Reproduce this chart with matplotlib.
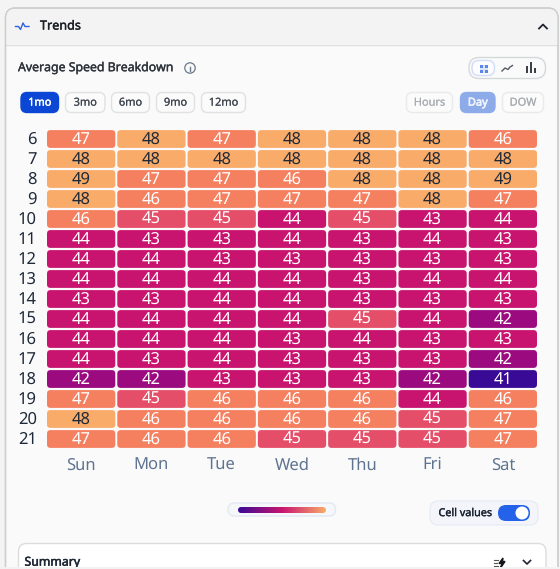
import numpy as np
import matplotlib
matplotlib.use("Agg")
import matplotlib.pyplot as plt
from matplotlib.patches import FancyBboxPatch, Circle, Rectangle
from matplotlib.colors import LinearSegmentedColormap
from matplotlib.patheffects import withStroke

plt.rcParams['font.family'] = ['Noto Sans', 'DejaVu Sans']
plt.rcParams['text.hinting'] = 'none'
plt.rcParams['text.hinting_factor'] = 1

HOURS = [6, 7, 8, 9, 10, 11, 12, 13, 14, 15, 16, 17, 18, 19, 20, 21]
DAYS = ["Sun", "Mon", "Tue", "Wed", "Thu", "Fri", "Sat"]
SPEED = [
    [47, 48, 47, 48, 48, 48, 46],
    [48, 48, 48, 48, 48, 48, 48],
    [49, 47, 47, 46, 48, 48, 49],
    [48, 46, 47, 47, 47, 48, 47],
    [46, 45, 45, 44, 45, 43, 44],
    [44, 43, 43, 44, 43, 44, 43],
    [44, 44, 43, 43, 43, 43, 43],
    [44, 44, 44, 44, 43, 44, 44],
    [43, 43, 44, 44, 43, 43, 43],
    [44, 44, 44, 44, 45, 44, 42],
    [44, 44, 44, 43, 44, 43, 43],
    [44, 43, 44, 43, 43, 43, 42],
    [42, 42, 43, 43, 43, 42, 41],
    [47, 45, 46, 46, 46, 44, 46],
    [48, 46, 46, 46, 46, 45, 47],
    [47, 46, 46, 45, 45, 45, 47],
]
PERIODS = ["1mo", "3mo", "6mo", "9mo", "12mo"]
GROUPS = ["Hours", "Day", "DOW"]

LEVELS = {41: "#390a96", 42: "#9c0a80", 43: "#c9146f", 44: "#c9146f",
          45: "#e54e68", 46: "#f58060", 47: "#f58060", 48: "#f9ab69", 49: "#f9ab69"}

W, H = 560, 569
fig = plt.figure(figsize=(W / 100, H / 100), dpi=100, facecolor="#f3f4f3")
ui = fig.add_axes([0, 0, 1, 1], zorder=1)
ui.set_xlim(0, W); ui.set_ylim(H, 0); ui.axis("off")


def px(v):
    return v * 0.72


def box(x0, y0, x1, y1, r, fc, ec="none", lw=1.0, z=2, ax=ui):
    p = FancyBboxPatch((x0, y0), x1 - x0, y1 - y0, boxstyle=f"round,pad=0,rounding_size={r}",
                       fc=fc, ec=ec, lw=lw, zorder=z)
    ax.add_patch(p)
    return p


def label(x, y, s, size, color, ha="left", heavy=0.4):
    ui.text(x, y, s, fontsize=px(size), color=color, ha=ha, va="center", zorder=3,
            path_effects=[withStroke(linewidth=heavy, foreground=color)])


# card
box(5.5, 8, 558, 620, 10, "#fafafa", "#cdcfcd", 1.0, 1)
hdr = Rectangle((6, 8.5), 552, 35.5, fc="#f3f3f3", ec="none", zorder=1.5)
ui.add_patch(hdr)
hdr.set_clip_path(box(5.5, 8, 558, 620, 10, "none", "none", 0, 0))
ui.plot([6, 558], [44.5, 44.5], color="#dedfde", lw=1, zorder=2)
box(5.5, 8, 558, 620, 10, "none", "#cdcfcd", 1.0, 2)

# trends icon
ui.plot([15.5, 18.5, 20.5, 23, 25, 29], [26.5, 26.5, 29.5, 23, 26.5, 26.5], color="#2f62e0", lw=1.0, zorder=3)
label(40, 26.3, "Trends", 12.6, "#1c1f24", heavy=0.3)
ui.plot([539, 543, 547], [28.5, 24.5, 28.5], color="#1f2430", lw=1.3, zorder=3)

label(18, 68, "Average Speed Breakdown", 12.3, "#2d333b", heavy=0.25)
ui.add_patch(Circle((190, 68), 5.2, fc="none", ec="#6c7a8c", lw=0.9, zorder=3))
ui.plot([190, 190], [67, 71], color="#6c7a8c", lw=1, zorder=3)
ui.plot([190, 190], [64.6, 65.4], color="#6c7a8c", lw=1, zorder=3)

# chart type switch
box(469, 57.5, 545.5, 78.5, 10, "#fafafa", "#d5d7db", 1, 2)
box(472, 60.5, 494.5, 75.5, 7, "#fdfdff", "#cfdcf8", 1, 3)
ui.add_patch(Rectangle((479.5, 64.5), 8, 8, fc="#dbe5fa", ec="none", zorder=4))
for qx in (479.5, 484.5):
    for qy in (64.5, 69.5):
        ui.add_patch(Rectangle((qx, qy), 3, 3, fc="#5a86e8", ec="none", zorder=5))
ui.plot([502, 505, 508, 510, 512.5], [71, 68, 69.5, 67, 65.5], color="#555a62", lw=1, zorder=4)
ui.bar([527, 531, 535], [7, 10.5, 4.5], bottom=[72.5 - 7, 72.5 - 10.5, 72.5 - 4.5], width=2.2, color="#3c4148", zorder=4)

# period buttons
PERIOD_EDGES = [(21, 58.5), (65.5, 105), (111.5, 149.5), (156.5, 194.5), (201.5, 245.5)]
for name, (a, b) in zip(PERIODS, PERIOD_EDGES):
    active = name == "1mo"
    box(a, 92.5, b, 112.5, 6, "#0b47d4" if active else "#fbfbfb", "#0b47d4" if active else "#e0e1e1", 1, 2)
    label((a + b) / 2, 102.8, name, 11, "white" if active else "#3f4650", ha="center", heavy=0.3 if active else 0.1)
GROUP_EDGES = [(406.5, 452.5), (460.5, 495), (502.5, 543.5)]
for name, (a, b) in zip(GROUPS, GROUP_EDGES):
    active = name == "Day"
    box(a, 92.5, b, 112.5, 6, "#8eabe9" if active else "#fbfbfb", "#8eabe9" if active else "#e9eaea", 1, 2)
    label((a + b) / 2, 102.8, name, 11, "#eef3fd" if active else "#a9adb2", ha="center", heavy=0.5 if active else 0.1)

# heat grid
GX0, GX1, GY0, GY1 = 46.0, 538.0, 129.0, 449.0
hm = fig.add_axes([GX0 / W, 1 - GY1 / H, (GX1 - GX0) / W, (GY1 - GY0) / H], zorder=2)
hm.set_xlim(0, len(DAYS)); hm.set_ylim(len(HOURS), 0); hm.patch.set_alpha(0)
for s in hm.spines.values():
    s.set_visible(False)
cw = (GX1 - GX0) / len(DAYS)
ch = (GY1 - GY0) / len(HOURS)
BASE = 14.6 / ch
for r, row in enumerate(SPEED):
    for c, v in enumerate(row):
        mx = 1.0 / cw; my = 1.1 / ch
        p = FancyBboxPatch((c + mx, r + my), 1 - 2 * mx, 1 - 2 * my,
                           boxstyle=f"round,pad=0,rounding_size={3.5 / cw}", mutation_aspect=cw / ch,
                           fc=LEVELS[v], ec="none")
        hm.add_patch(p)
        hm.text(c + .5, r + BASE, str(v), ha="center", va="baseline", fontsize=px(16.6),
                color="#1f2937" if v >= 48 else "white")
hm.set_xticks(np.arange(len(DAYS)) + .5, DAYS)
hm.set_yticks(np.arange(len(HOURS)) + BASE, HOURS)
for t in hm.get_yticklabels():
    t.set_va("baseline")
hm.tick_params(length=0)
hm.tick_params(axis="x", pad=5.6, labelsize=px(16.6), labelcolor="#5d7390")
hm.tick_params(axis="y", pad=6.5, labelsize=px(16.6), labelcolor="#1e2a3a")

# legend
box(228, 503, 335.5, 516, 6.5, "#f5f7fb", "#e3e8f1", 1, 2)
cmap = LinearSegmentedColormap.from_list("speed", ["#390a96", "#c9146f", "#f9ab69"])
im = ui.imshow(np.linspace(0, 1, 200)[None, :], extent=(238, 326, 513, 507), cmap=cmap, aspect="auto", zorder=3)
im.set_clip_path(box(238, 507, 326, 513, 3, "none", "none", 0, 0))
ui.set_xlim(0, W); ui.set_ylim(H, 0)

# cell values switch
box(430, 501, 538, 525, 8, "#f3f5fb", "#e8ecf5", 1, 2)
label(438.5, 513.3, "Cell values", 10.8, "#1c2533", heavy=0.25)
box(498, 505, 530, 521, 8, "#2462ea", "none", 0, 3)
ui.add_patch(Circle((522, 513), 6.5, fc="white", ec="none", zorder=4))

# summary card
box(18.5, 543.5, 546, 620, 8, "#ffffff", "#dcdcdc", 1, 2)
label(24.5, 562.5, "Summary", 12.3, "#1c2533", heavy=0.35)
ui.plot([493.5, 498], [560, 560], color="#555", lw=.8, zorder=3)
ui.plot([493.5, 497], [563, 563], color="#555", lw=.8, zorder=3)
ui.plot([493.5, 498], [566, 566], color="#555", lw=.8, zorder=3)
ui.fill([503, 499, 502, 500.5, 505, 502.5], [558, 563.5, 563.5, 568, 561.5, 561.5], color="#14171c", zorder=3)
ui.plot([523.5, 527, 530.5], [560.5, 564, 560.5], color="#1f2430", lw=1.2, zorder=3)

# strip along the lower edge
ui.add_patch(Rectangle((0, 567), W, 3, fc="#f2f2f2", ec="none", zorder=5))

fig.savefig("out.png", dpi=100, facecolor=fig.get_facecolor())
